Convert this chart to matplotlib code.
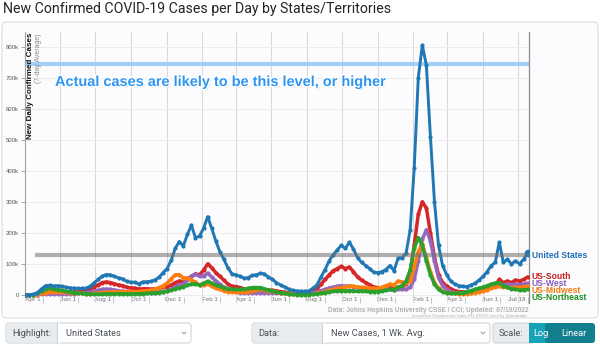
import matplotlib
matplotlib.use('Agg')
import matplotlib.pyplot as plt
import matplotlib.dates as mdates
import matplotlib.patheffects as pe
from matplotlib.patches import FancyBboxPatch, Rectangle
from matplotlib.lines import Line2D
from matplotlib.transforms import ScaledTranslation
import pandas as pd

# ---------------- data (weekly, thousands of cases, 7-day avg) ----------------
start_date = '2020-03-02'
us = [0, 0.5, 2, 8, 20, 30, 31, 29, 30, 28, 25, 23, 22, 21, 21, 22, 28, 40, 50, 61, 66, 65,
      60, 55, 52, 44, 41, 41, 36, 42, 43, 44, 49, 57, 72, 85, 112, 150, 172, 158, 195, 225, 184, 190,
      215, 252, 215, 175, 140, 115, 88, 68, 65, 60, 54, 56, 63, 65, 70, 68, 58, 50, 40, 32, 26, 19,
      15, 13, 12, 12, 13, 22, 33, 58, 82, 110, 130, 145, 160, 150, 170, 148, 120, 105, 95, 85, 73, 72,
      75, 82, 95, 78, 118, 120, 135, 210,
      410, 700, 805, 740, 510, 300, 160, 95, 65, 45, 35, 30, 28, 27, 32, 38, 48, 60, 75, 95, 105, 170,
      105, 115, 100, 110, 100, 115, 135]
south = [0, 0, 0.5, 2, 5, 8, 9, 9, 9, 9, 9, 9, 10, 10, 11, 13, 18, 27, 33, 40, 42, 40,
         36, 32, 30, 25, 23, 22, 19, 20, 20, 19, 20, 22, 25, 27, 32, 40, 45, 43, 52, 60, 68, 65,
         80, 100, 88, 72, 60, 48, 35, 28, 27, 24, 20, 18, 18, 17, 17, 17, 16, 15, 13, 11, 9, 6,
         5, 5, 5, 6, 8, 13, 20, 35, 50, 65, 78, 85, 92, 85, 90, 75, 58, 48, 40, 33, 26, 24,
         21, 22, 24, 20, 25, 28, 35, 75,
         160, 260, 300, 280, 200, 120, 65, 40, 28, 20, 14, 11, 10, 9, 9, 10, 12, 15, 18, 25, 30, 50,
         40, 45, 40, 48, 45, 50, 58]
west = [0, 0, 0.3, 1, 3, 4, 4, 4, 4, 4, 4, 4, 4, 5, 6, 7, 9, 12, 15, 18, 19, 18,
        16, 14, 12, 10, 8, 7, 6, 6, 6, 7, 7, 9, 11, 13, 18, 26, 33, 35, 48, 60, 68, 60,
        62, 70, 58, 45, 35, 25, 17, 12, 10, 8, 7, 7, 7, 8, 8, 8, 8, 7, 6, 5, 5, 4,
        3, 3, 3, 4, 5, 7, 10, 14, 18, 22, 25, 28, 30, 28, 30, 27, 24, 22, 20, 18, 17, 17,
        17, 18, 18, 15, 18, 18, 18, 25,
        50, 110, 180, 210, 175, 110, 55, 30, 18, 11, 8, 7, 7, 7, 8, 10, 13, 17, 20, 25, 28, 40,
        32, 35, 33, 35, 33, 35, 38]
midwest = [0, 0, 0.3, 1.5, 5, 8, 9, 10, 11, 10, 9, 8, 7, 6, 5, 4, 4, 5, 6, 8, 9, 10,
           10, 10, 10, 10, 11, 11, 11, 13, 14, 16, 19, 24, 30, 38, 52, 65, 66, 55, 55, 48, 42, 32,
           33, 35, 28, 22, 18, 14, 11, 10, 9, 9, 9, 11, 14, 16, 18, 17, 14, 12, 9, 7, 5, 4,
           3, 2.5, 2, 2, 2.5, 3.5, 5, 8, 11, 15, 18, 21, 24, 25, 29, 28, 26, 25, 24, 22, 21, 22,
           25, 30, 35, 32, 45, 42, 38, 45,
           90, 140, 165, 120, 75, 40, 22, 12, 8, 6, 5, 4, 4, 4, 5, 7, 10, 13, 17, 22, 25, 28,
           25, 25, 22, 25, 24, 26, 28]
northeast = [0, 0.2, 1, 5, 13, 20, 22, 19, 17, 15, 12, 10, 8, 6, 5, 4, 3, 3, 3, 3, 3.5, 3.5,
             3.5, 3.5, 3.5, 3.5, 3.5, 4, 4, 4.5, 5, 6, 7, 8, 10, 12, 16, 20, 24, 26, 32, 35, 36, 32,
             38, 44, 38, 32, 28, 24, 20, 18, 18, 18, 19, 21, 24, 24, 24, 20, 16, 13, 10, 7, 5, 3,
             2, 1.5, 1.2, 1.2, 1.5, 2.5, 4, 6, 8, 10, 12, 13, 14, 13, 14, 13, 12, 12, 12, 11, 11, 11,
             13, 15, 18, 17, 25, 30, 45, 80,
             150, 185, 160, 110, 65, 35, 18, 10, 7, 5, 5, 6, 8, 10, 14, 18, 22, 25, 30, 35, 38, 40,
             30, 25, 20, 18, 16, 16, 18]

series_names = ['US-South', 'US-West', 'US-Midwest', 'US-Northeast', 'United States']
series_values = [south, west, midwest, northeast, us]
series_colors = ['#d62728', '#9467bd', '#ff7f0e', '#2ca02c', '#1f77b4']
label_colors = ['#c81e1e', '#8a5cc0', '#f57a0a', '#1f8f1f', '#1f6fb4']

ytick_vals = [0, 100, 200, 300, 400, 500, 600, 700, 800]
ytick_labels = ['0', '100k', '200k', '300k', '400k', '500k', '600k', '700k', '800k']
xtick_dates = ['2020-04-01', '2020-06-01', '2020-08-01', '2020-10-01', '2020-12-01',
               '2021-02-01', '2021-04-01', '2021-06-01', '2021-08-01', '2021-10-01',
               '2021-12-01', '2022-02-01', '2022-04-01', '2022-06-01', '2022-07-18']
xtick_labels = ['Apr 1', 'Jun 1', 'Aug 1', 'Oct 1', 'Dec 1', 'Feb 1', 'Apr 1', 'Jun 1',
                'Aug 1', 'Oct 1', 'Dec 1', 'Feb 1', 'Apr 1', 'Jun 1', 'Jul 18']
actual_level = 745
gray_level = 130

dates = pd.date_range(start_date, periods=len(us), freq='7D')

# ---------------- figure ----------------
W, H = 600, 346
fig = plt.figure(figsize=(W / 100, H / 100), dpi=100)
fig.patch.set_facecolor('white')


def fx(x):
    return x / W


def fy(y):
    return 1 - y / H


def box(x0, y0, x1, y1, fc, ec='none', lw=0.8, r=3, z=0):
    p = FancyBboxPatch((x0 / 100, (H - y1) / 100), (x1 - x0) / 100, (y1 - y0) / 100,
                       boxstyle=f'round,pad=0,rounding_size={r / 100}',
                       transform=fig.dpi_scale_trans, facecolor=fc, edgecolor=ec, linewidth=lw,
                       zorder=z)
    fig.add_artist(p)


def rect(x0, y0, x1, y1, fc, z=0):
    p = Rectangle((x0 / 100, (H - y1) / 100), (x1 - x0) / 100, (y1 - y0) / 100,
                  transform=fig.dpi_scale_trans, facecolor=fc, edgecolor='none', zorder=z)
    fig.add_artist(p)


# chart panel
box(2, 22, 598, 318, '#fcfcfe', '#dedede', 0.8, 4, z=-5)

# title
fig.text(fx(3), fy(9.5), 'New Confirmed COVID-19 Cases per Day by States/Territories',
         fontsize=10.15, family='Roboto', color='#212529', ha='left', va='center')

# axes
ax_l, ax_r, ax_t, ax_b = 25, 529, 32, 303
ax = fig.add_axes([fx(ax_l), fy(ax_b), (ax_r - ax_l) / W, (ax_b - ax_t) / H])
ax.patch.set_alpha(0)
px_per_k = (295 - 46.7) / 800
ax.set_ylim(-(ax_b - 295) / px_per_k, (295 - ax_t) / px_per_k)
apr1 = mdates.date2num(pd.Timestamp('2020-04-01'))
px_per_day = (431.0 - 42.7) / 671
ax.set_xlim(apr1 - (42.7 - ax_l) / px_per_day, apr1 + (ax_r - 42.7) / px_per_day)

# grid
ax.set_yticks(ytick_vals)
ax.set_yticklabels(ytick_labels)
ax.xaxis.set_minor_locator(mdates.MonthLocator())
ax.set_xticks([mdates.date2num(pd.Timestamp(d)) for d in xtick_dates])
ax.set_xticklabels(xtick_labels)
ax.grid(which='minor', axis='x', color='#d9d9d9', lw=0.8)
ax.grid(which='major', axis='y', color='#ececec', lw=0.7)
ax.set_axisbelow(True)
ax.tick_params(axis='x', which='minor', length=0)
ax.tick_params(axis='x', which='major', direction='in', length=4.3, width=0.6, color='#bbbbbb',
               pad=-4.2, labelsize=4.4, labelcolor='#9a9a9a')
ax.tick_params(axis='y', length=3, width=0.6, color='#999999', pad=1.2, labelsize=4.3,
               labelcolor='#555555')
for lab in ax.get_xticklabels():
    lab.set_ha('right')
    lab.set_fontweight('bold')
    lab.set_family('Liberation Sans')
    lab.set_transform(lab.get_transform() + ScaledTranslation(-2.2 / 100, 0, fig.dpi_scale_trans))
for lab in ax.get_yticklabels():
    lab.set_family('Liberation Sans')

for s in ['top', 'bottom']:
    ax.spines[s].set_visible(False)
ax.spines['left'].set_color('#a0a0a0')
ax.spines['left'].set_linewidth(0.8)
ax.spines['left'].set_bounds(0, ax.get_ylim()[1])
ax.spines['right'].set_color('#8c8c8c')
ax.spines['right'].set_linewidth(0.9)

# reference line (light blue)
ax.axhline(actual_level, color='#a3cff8', lw=3.0, zorder=1)

# series
for name, vals, col in zip(series_names, series_values, series_colors):
    lw = 2.1 if name == 'United States' else 2.5
    ax.plot(dates, vals, color=col, lw=lw, marker='o', ms=3.0, mew=0, zorder=3,
            solid_joinstyle='round', solid_capstyle='round')
ax.plot(dates[-1:], us[-1:], 'o', color=series_colors[-1], ms=4.5, zorder=4)

# gray line
ax.hlines(gray_level, mdates.date2num(pd.Timestamp('2020-03-18')), ax.get_xlim()[1],
          color='#6e6e6e', lw=3.0, alpha=0.55, zorder=5)

# annotation text
fig.text(fx(55), fy(82), 'Actual cases are likely to be this level, or higher',
         fontsize=10.45, fontweight='bold', family='Liberation Sans', color='#2d95f2',
         ha='left', va='center', zorder=10,
         path_effects=[pe.SimplePatchShadow(offset=(1, -1), shadow_rgbFace='#555555', alpha=0.35),
                       pe.Stroke(linewidth=2.4, foreground='white'), pe.Normal()])

# y label
fig.text(fx(30.5), fy(33), 'New Daily Confirmed Cases', rotation=90, fontsize=5.8,
         fontweight='bold', family='Liberation Sans', color='#111111', ha='center', va='top')
fig.text(fx(38.5), fy(33), '(7-day Average)', rotation=90, fontsize=5.0,
         family='Liberation Sans', color='#888888', ha='center', va='top')

# end labels
end_label_y = [276.5, 284, 290.8, 297.6, 255.5]
for name, col, yy in zip(series_names, label_colors, end_label_y):
    fig.text(fx(532), fy(yy), name, fontsize=6.2, fontweight='bold', family='Liberation Sans',
             color=col, ha='left', va='center')

# source text
fig.text(fx(529), fy(310.5), 'Data: Johns Hopkins University CSSE / CCI; Updated: 07/19/2022',
         fontsize=4.7, fontweight='bold', family='Liberation Sans', color='#b0b0b0',
         ha='right', va='center')
fig.text(fx(529), fy(315.5), 'Interactive Visualization: https://91-DIVOC.com/ by @profwade_',
         fontsize=3.0, family='Liberation Sans', color='#b0b0b0', ha='right', va='center')

# ---------------- controls ----------------
cy0, cy1 = 323, 343
ctl_font = dict(family='Roboto', fontsize=6.7, va='center')


def select(x0, xs, x1, label, value):
    box(x0, cy0, x1, cy1, 'white', '#ced4da', 0.8, 3, z=1)
    box(x0 + 0.4, cy0 + 0.4, xs + 3, cy1 - 0.4, '#e9ecef', 'none', 0, 3, z=2)
    rect(xs, cy0 + 0.4, xs + 3.5, cy1 - 0.4, 'white', z=3)
    fig.add_artist(Line2D([fx(xs), fx(xs)], [fy(cy0), fy(cy1)], transform=fig.transFigure,
                          color='#ced4da', lw=0.8, zorder=4))
    fig.text(fx(x0 + 6), fy((cy0 + cy1) / 2), label, color='#495057', ha='left', zorder=5,
             **ctl_font)
    fig.text(fx(xs + 9), fy((cy0 + cy1) / 2), value, color='#495057', ha='left', zorder=5,
             **ctl_font)
    cx = x1 - 7
    fig.add_artist(Line2D([fx(cx - 2), fx(cx), fx(cx + 2)], [fy(332), fy(334), fy(332)],
                          transform=fig.transFigure, color='#888888', lw=0.6, zorder=5))


select(6, 57, 191, 'Highlight:', 'United States')
select(252, 322, 490, 'Data:', 'New Cases, 1 Wk. Avg.')

# scale group
box(493, cy0, 535, cy1, '#e9ecef', '#ced4da', 0.8, 3, z=1)
rect(529, cy0, 552, cy1, '#17a2b8', z=2)
box(545, cy0, 595, cy1, '#127f8f', 'none', 0, 3, z=2)
rect(552, cy0, 560, cy1, '#127f8f', z=3)
fig.text(fx(499), fy(333), 'Scale:', color='#495057', ha='left', zorder=5, **ctl_font)
fig.text(fx(540.5), fy(333), 'Log', color='white', ha='center', zorder=5, **ctl_font)
fig.text(fx(573.5), fy(333), 'Linear', color='white', ha='center', zorder=5, **ctl_font)

fig.savefig('out.png', dpi=100, facecolor='white')
